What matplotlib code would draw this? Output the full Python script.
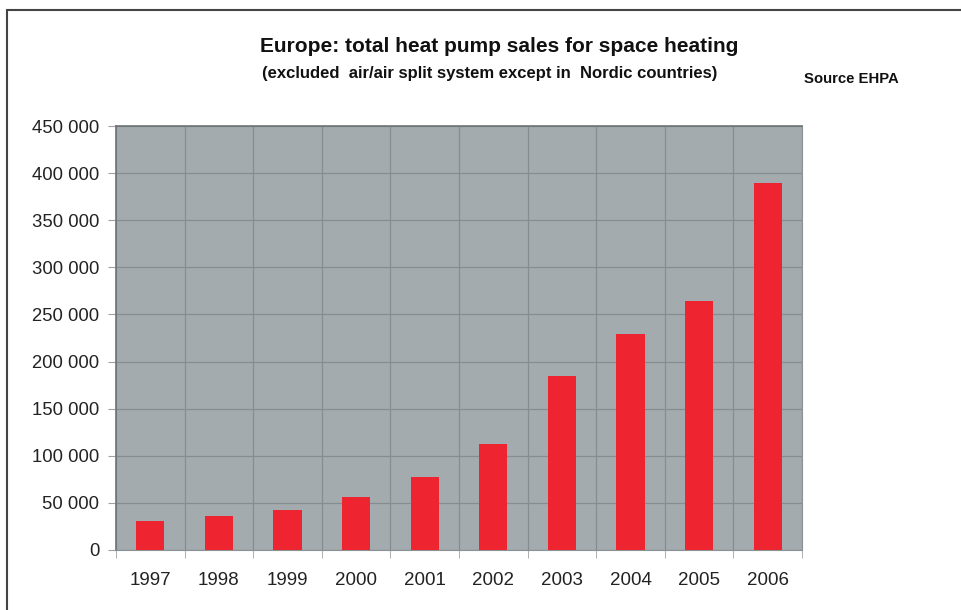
import numpy as np
import matplotlib.pyplot as plt
from matplotlib.patches import Rectangle
from matplotlib.ticker import FuncFormatter, MultipleLocator

plt.rcParams['font.family'] = ['Liberation Sans', 'DejaVu Sans']

years = ['1997', '1998', '1999', '2000', '2001', '2002', '2003', '2004', '2005', '2006']
sales = [31000, 36000, 42000, 56000, 77000, 113000, 185000, 229000, 264000, 390000]

fig = plt.figure(figsize=(9.61, 6.10), dpi=100)
ax = fig.add_axes([0.1207, 0.0984, 0.7138, 0.695])

x = np.arange(len(years))
ax.set_facecolor('#a3abae')
ax.bar(x, sales, width=0.41, color='#ee2430', zorder=3)

ax.set_xlim(-0.5, len(years) - 0.5)
ax.set_ylim(0, 450000)
ax.yaxis.set_major_locator(MultipleLocator(50000))
ax.yaxis.set_major_formatter(FuncFormatter(lambda v, p: f'{int(v):,}'.replace(',', ' ')))

# labels in the middle of each category, gridlines on the boundaries
ax.set_xticks(x)
ax.set_xticklabels(years)
ax.set_xticks(np.arange(-0.5, len(years)), minor=True)
ax.tick_params(axis='x', which='major', length=0, pad=16, labelsize=13.5, colors='#222222')
ax.tick_params(axis='x', which='minor', length=6, color='#a0a0a0', direction='out')
ax.tick_params(axis='y', length=6, color='#a0a0a0', labelcolor='#222222',
               labelsize=13.3, pad=6)

ax.grid(True, axis='y', which='major', color='#858d91', linewidth=0.9, zorder=1)
ax.grid(True, axis='x', which='minor', color='#858d91', linewidth=0.9, zorder=1)

for side in ['top', 'left']:
    ax.spines[side].set_color('#6c7376')
    ax.spines[side].set_linewidth(1.2)
ax.spines['right'].set_color('#8a9296')
ax.spines['bottom'].set_color('#8a9296')

fig.text(0.519, 0.923, 'Europe: total heat pump sales for space heating',
         ha='center', va='center', fontsize=15, fontweight='bold', color='#111111')
fig.text(0.510, 0.880, '(excluded  air/air split system except in  Nordic countries)',
         ha='center', va='center', fontsize=12, fontweight='bold', color='#111111')
fig.text(0.837, 0.870, 'Source EHPA',
         ha='left', va='center', fontsize=10.7, fontweight='bold', color='#111111')

# outer frame around the whole graphic
fig.patches.append(Rectangle((0.0073, -0.1), 1.1, 1.084, transform=fig.transFigure,
                             fill=False, edgecolor='#444444', linewidth=1.5))

fig.savefig('out.png', dpi=100)
